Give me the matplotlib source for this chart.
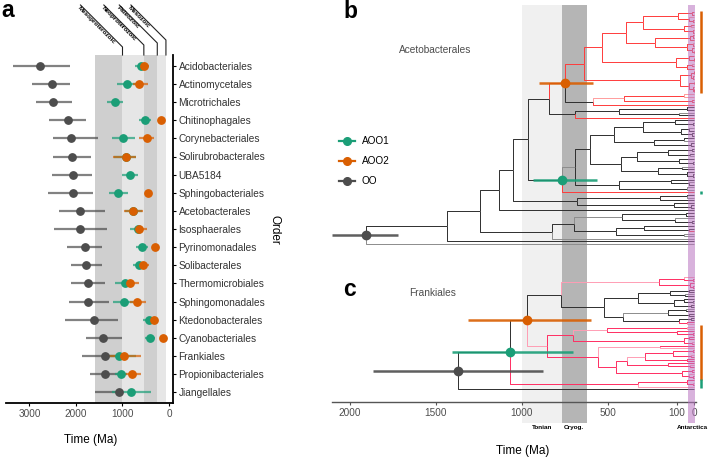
import numpy as np
import matplotlib.pyplot as plt
from matplotlib.lines import Line2D
from matplotlib.patches import Rectangle
from matplotlib.collections import LineCollection

plt.rcParams['font.family'] = ['Liberation Sans', 'DejaVu Sans']

W, H = 709, 458

# ---------------- panel a data (Ma) ----------------
orders = ["Acidobacteriales", "Actinomycetales", "Microtrichales", "Chitinophagales",
          "Corynebacteriales", "Solirubrobacterales", "UBA5184", "Sphingobacteriales",
          "Acetobacterales", "Isosphaerales", "Pyrinomonadales", "Solibacterales",
          "Thermomicrobiales", "Sphingomonadales", "Ktedonobacterales", "Cyanobacteriales",
          "Frankiales", "Propionibacteriales", "Jiangellales"]

oo_mid = [2780, 2520, 2490, 2180, 2110, 2090, 2070, 2060, 1910, 1910, 1810, 1780, 1750, 1740, 1610, 1410, 1380, 1370, 1080]
oo_old = [3350, 2940, 2870, 2580, 2490, 2490, 2520, 2610, 2360, 2470, 2190, 2110, 2110, 2150, 2240, 1790, 1880, 1690, 1590]
oo_young = [2130, 2130, 2090, 1790, 1530, 1680, 1650, 1640, 1380, 1340, 1450, 1430, 1380, 1290, 1090, 1020, 880, 1080, 1000]

aoo1_mid = [609, 903, 1168, 516, 982, 925, 839, 1089, 775, 674, 588, 638, 946, 968, 437, 401, 1075, 1039, 824]
aoo1_old = [730, 1125, 1326, 638, 1219, 1190, 1018, 1290, 950, 839, 710, 767, 1161, 1211, 567, 516, 1400, 1160, 1232]
aoo1_young = [553, 695, 982, 394, 731, 720, 660, 889, 570, 560, 459, 530, 800, 780, 330, 301, 720, 900, 394]

aoo2_mid = [538, 645, np.nan, 172, 480, 925, np.nan, 444, 767, 638, 294, 552, 839, 695, 330, 122, 968, 796, np.nan]
aoo2_old = [624, 767, np.nan, 200, 638, 1197, np.nan, 470, 961, 760, 330, 650, 930, 830, 420, 150, 1326, 950, np.nan]
aoo2_young = [430, 445, np.nan, 150, 323, 717, np.nan, 420, 552, 480, 260, 423, 645, 502, 229, 95, 602, 602, np.nan]

era_names = ["Mesoproterozoic", "Neoproterozoic", "Paleozoic", "Mesozoic"]
era_old = [1600, 1000, 541, 252]
era_young = [1000, 541, 252, 66]

# ---------------- panel b / c trees (node ages in Ma) ----------------
# tips: r/p red shades, k/g grey shades; flags A=AOO1, B=AOO2, C=OO node, O/T = orange/teal clade bar
b_Q = "(((r,r)12,(p,(r,r)5)30)95,((r,p)20,(r,r)8)60)300"
b_S = "(((r,r)6,r)25,((p,r)10,(r,(r,r)3)14)45)230"
b_P = "((r,(r,r)4)30,((p,r)12,r)40)106"
b_N = "(((r,r)3,(r,r)6)20,((r,r)4,(r,(r,r)2)7)30)83"
b_L = "(((p,p)60,(r,r)15)410p,r)590k"
b_J = "(((k,k)40,(g,k)90)435,r)692k"
b_V1 = "(((k,(k,k)10)110,((g,k)30,(k,k)15)80)300,((k,g)60,(k,k)20)235)465"
b_V2 = "((((k,k)12,(k,g)25)150,(k,(k,k)8)90)335,((g,k)70,(k,(k,k)5)40)210)424"
b_W = "((k,(g,k)30)135,(g,g)40)435"
b_G = "(((k,g)40,k)200,(k,(k,k)20)120)683"
b_E1 = "(((k,k)50,(g,(k,k)15)110)420g,((k,(k,r)30)290,(g,g)60)455)700"

tree_b = ("(((((((((((" + b_Q + "," + b_S + ")398," + b_P + ")537," + b_N + ")640O," + b_L + ")750B,"
          + b_J + ")842,(((" + b_V1 + "," + b_V2 + ")606," + b_W + ")692g,rT)766A)963," + b_G + ")1050,k)1132,("
          + b_E1 + ",g)824)1244,k)1437,g)1907C")

c_Y1 = "((p,(r,r)8)60,(r,(r,r)5)25)203p"
c_Y3 = "(((k,k)30,(g,k)55)140,((k,(k,g)10)60,(k,k)20)120)325"
c_Y4 = "(((g,k)50,(k,k)30)150g,((k,k)20,(r,p)40)90)412"
c_Z1 = "(((p,p)40,(r,(r,r)10)100)504p,((r,r)30,(p,r)15)60)706"
c_Z3 = "(((((r,r)10,(p,r)20)122,(r,r)40)286p,(r,(p,r)25)150)390,((r,r)12,(p,(r,r)6)30)70)456"
c_Tc = "((r,(p,r)5)40,p)325T"

tree_c = ("((((" + c_Y1 + ",(" + c_Y3 + "," + c_Y4 + ")522)775k,(" + c_Z1 + ",((r,p)200p," + c_Z3
          + ")557)853pO)969B," + c_Tc + ")1070A,k)1373C")

node_flags = ["A", "B", "C"]
acet_ci_old = [938, 900, 2100]
acet_ci_young = [563, 586, 1718]
frank_ci_old = [1408, 1312, 1863]
frank_ci_young = [702, 600, 876]

bands_old = [1000, 770]
bands_young = [770, 625]
band_names = ["Tonian", "Cryog."]
antarctica = (35, -4)

teal, orange, grey = '#1b9e77', '#d95f02', '#4d4d4d'
series_cols = [teal, orange, grey]
pal_b = {'r': '#ff3b3b', 'p': '#ff9c9c', 'k': '#2e2e2e', 'g': '#8c8c8c'}
pal_c = {'r': '#ff2d62', 'p': '#ff9db4', 'k': '#2e2e2e', 'g': '#8c8c8c'}


def parse_tree(s):
    pos = 0

    def label():
        nonlocal pos
        start = pos
        while pos < len(s) and s[pos] not in '(),':
            pos += 1
        return s[start:pos]

    def node():
        nonlocal pos
        kids = []
        if s[pos] == '(':
            pos += 1
            kids.append(node())
            while s[pos] == ',':
                pos += 1
                kids.append(node())
            pos += 1
        lab = label()
        digits = ''.join(ch for ch in lab if ch.isdigit())
        flags = ''.join(ch for ch in lab if ch.isalpha())
        return {'kids': kids, 'age': float(digits) if digits else 0.0, 'flags': flags}

    return node()


def layout(root, y_top, y_bot):
    tips = []

    def walk(n):
        if not n['kids']:
            tips.append(n)
        for k in n['kids']:
            walk(k)
    walk(root)
    for t, y in zip(tips, np.linspace(y_top, y_bot, len(tips))):
        t['y'] = y

    def sety(n):
        if n['kids']:
            n['tips'] = []
            for k in n['kids']:
                sety(k)
                n['tips'] += k['tips']
            n['y'] = (n['kids'][0]['y'] + n['kids'][-1]['y']) / 2
        else:
            n['tips'] = [n]
        own = [f for f in n['flags'] if f in 'rpkg']
        if own:
            n['shade'] = own[0]
        elif all(t['flags'][0] in 'rp' for t in n['tips']):
            n['shade'] = 'r'
        else:
            n['shade'] = 'k'
    sety(root)


def draw_tree(ax, s, y_top, y_bot, pal, ci_old, ci_young):
    root = parse_tree(s)
    layout(root, y_top, y_bot)
    segs, cols, marks, bars = [], [], {}, []

    def walk(n):
        for f in n['flags']:
            if f in 'ABC':
                marks[f] = n
            if f in 'OT':
                bars.append((f, n['tips'][0]['y'], n['tips'][-1]['y']))
        for k in n['kids']:
            segs.append([(n['age'], n['y']), (n['age'], k['y']), (k['age'], k['y'])])
            cols.append(pal[k['shade']])
            walk(k)
    walk(root)
    ax.add_collection(LineCollection(segs, colors=cols, linewidths=0.7, zorder=2))
    for f, c, lo, hi in zip(node_flags, series_cols, ci_old, ci_young):
        n = marks[f]
        ax.plot([lo, hi], [n['y'], n['y']], color=c, lw=1.8, alpha=0.9, zorder=4, solid_capstyle='butt')
        ax.plot(n['age'], n['y'], 'o', color=c, ms=6, zorder=5)
    for f, y0, y1 in bars:
        ax.plot([-38, -38], [y0 - 1.5, y1 + 1.5], color=orange if f == 'O' else teal,
                lw=1.8, clip_on=False, solid_capstyle='butt', zorder=5)


fig = plt.figure(figsize=(W / 100, H / 100), dpi=100)

# ---------------- panel a ----------------
ax = fig.add_axes([6 / W, 1 - 403 / H, 167 / W, 348 / H])
rows = np.arange(len(orders))
ax.set_xlim(3505, -86)
ax.set_ylim(len(orders) - 0.4, -0.6)
for i, (o, y) in enumerate(zip(era_old, era_young)):
    ax.axvspan(o, y, color='#cfcfcf' if i % 2 == 0 else '#e6e6e6', lw=0, zorder=0)

for mid, old, young, c in [(oo_mid, oo_old, oo_young, grey),
                           (aoo1_mid, aoo1_old, aoo1_young, teal),
                           (aoo2_mid, aoo2_old, aoo2_young, orange)]:
    mid, old, young = np.array(mid), np.array(old), np.array(young)
    ok = ~np.isnan(mid)
    ax.hlines(rows[ok], old[ok], young[ok], color=c, lw=1.6, alpha=0.7, zorder=2)
    ax.plot(mid[ok], rows[ok], 'o', color=c, ms=5.3, zorder=3, lw=0)

for sp in ['left', 'top']:
    ax.spines[sp].set_visible(False)
for sp in ['right', 'bottom']:
    ax.spines[sp].set_linewidth(1.3)
ax.yaxis.tick_right()
ax.set_yticks(rows, orders)
ax.set_xticks([3000, 2000, 1000, 0], ['3000', '2000', '1000', '0'])
ax.tick_params(axis='y', labelsize=7.3, length=2.5, pad=1.5, labelcolor='#333333')
ax.tick_params(axis='x', labelsize=7.2, length=2.5, pad=2, labelcolor='#4d4d4d')
fig.text(91 / W, 1 - 440 / H, 'Time (Ma)', ha='center', va='center', fontsize=8.5)
fig.text(275 / W, 1 - 230 / H, 'Order', ha='center', va='center', fontsize=8.5, rotation=270)

# era labels above panel a
knees = [47, 45, 43, 40]
for name, ma, yk in zip(era_names, era_young, knees):
    xb = ax.transData.transform((ma, 0))[0]
    d = yk - 5
    fig.add_artist(Line2D([xb / W, xb / W, (xb - d) / W],
                          [1 - 55 / H, 1 - yk / H, 1 - 5 / H],
                          transform=fig.transFigure, color='#222222', lw=0.8))
    fig.text((xb - d) / W, 1 - 5.5 / H, name, rotation=-45, rotation_mode='anchor',
             ha='left', va='top', fontsize=4.6, fontweight='bold', color='black')

fig.text(1 / W, 1 - 17 / H, 'a', fontsize=16.5, fontweight='bold', ha='left', va='baseline')

# ---------------- panels b, c ----------------
axb = fig.add_axes([331.7 / W, 1 - 402 / H, 364 / W, 397 / H])
axb.set_xlim(2104, -8)
axb.set_ylim(402, 5)
for o, y, c in zip(bands_old, bands_young, ['#f0f0f0', '#b5b5b5']):
    axb.add_patch(Rectangle((y, 5), o - y, 418, color=c, lw=0, zorder=0, clip_on=False))
axb.add_patch(Rectangle((antarctica[1], 5), antarctica[0] - antarctica[1], 418, color='#b873c0',
                        alpha=0.55, lw=0, zorder=3, clip_on=False))
for o, y, name in zip(bands_old, bands_young, band_names):
    axb.text((o + y) / 2, 428, name, ha='center', va='center', fontsize=4.6, fontweight='bold',
             clip_on=False)
axb.text(sum(antarctica) / 2 - 4, 428, 'Antarctica', ha='center', va='center', fontsize=4.6,
         fontweight='bold', clip_on=False)

draw_tree(axb, tree_b, 12, 244, pal_b, acet_ci_old, acet_ci_young)
draw_tree(axb, tree_c, 277, 389, pal_c, frank_ci_old, frank_ci_young)

for sp in ['left', 'top', 'right']:
    axb.spines[sp].set_visible(False)
axb.spines['bottom'].set_linewidth(1.0)
axb.spines['bottom'].set_color('#555555')
axb.set_yticks([])
axb.set_xticks([2000, 1500, 1000, 500, 100, 0], ['2000', '1500', '1000', '500', '100', '0'])
axb.tick_params(axis='x', labelsize=7.2, length=2.5, pad=2, labelcolor='#4d4d4d', color='#555555')

axb.legend(handles=[Line2D([], [], color=c, marker='o', lw=1.6, ms=5.5) for c in series_cols],
           labels=['AOO1', 'AOO2', 'OO'], loc='upper left', bbox_to_anchor=(339 / W, 1 - 136 / H),
           bbox_transform=fig.transFigure, frameon=False, fontsize=7.2, handlelength=1.6,
           handletextpad=0.7, labelspacing=1.0, borderpad=0, borderaxespad=0)

fig.text(399 / W, 1 - 53 / H, 'Acetobacterales', fontsize=7.3, color='#4d4d4d', va='baseline')
fig.text(409 / W, 1 - 296 / H, 'Frankiales', fontsize=7.3, color='#4d4d4d', va='baseline')
fig.text(343 / W, 1 - 18 / H, 'b', fontsize=16.5, fontweight='bold', ha='left', va='baseline')
fig.text(343 / W, 1 - 296 / H, 'c', fontsize=16.5, fontweight='bold', ha='left', va='baseline')
fig.text(523 / W, 1 - 451 / H, 'Time (Ma)', ha='center', va='center', fontsize=8.5)

fig.savefig('out.png', dpi=100)
